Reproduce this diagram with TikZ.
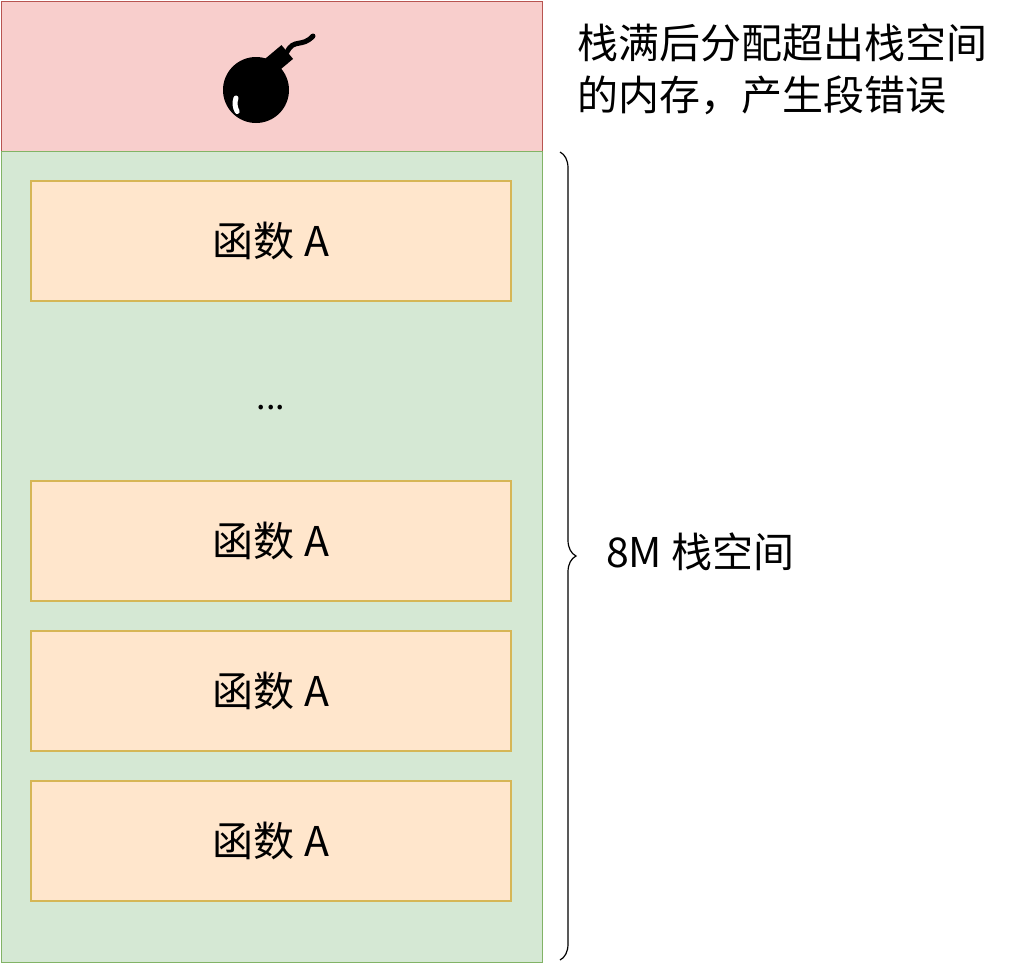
\documentclass[tikz,border=0pt]{standalone}
\usepackage{fontspec}
\setmainfont{Noto Sans CJK SC}
\usetikzlibrary{decorations.pathreplacing}
\definecolor{redf}{HTML}{F8CECC}\definecolor{redd}{HTML}{B85450}
\definecolor{grnf}{HTML}{D5E8D4}\definecolor{grnd}{HTML}{82B366}
\definecolor{orf}{HTML}{FFE6CC}\definecolor{ord}{HTML}{D6B656}
\begin{document}
\begin{tikzpicture}[x=1pt,y=-1pt,
 fbox/.style={draw=ord,fill=orf,line width=1.2pt,minimum width=480pt,minimum height=120pt,inner sep=0pt,font=\fontsize{41}{48}\selectfont},
 lbl/.style={font=\fontsize{41}{52}\selectfont,align=left,inner sep=0pt}]
\useasboundingbox (0,0) rectangle (1024,964);
\node[draw=redd,fill=redf,line width=1pt,minimum width=541pt,minimum height=150pt,inner sep=0pt,anchor=north west] (top) at (0.5,0.5) {};
\node[draw=grnd,fill=grnf,line width=1pt,minimum width=541pt,minimum height=811pt,inner sep=0pt,anchor=north west] (stack) at (0.5,151) {};
\node[fbox] (f1) at (271,241) {函数 A};
\node[font=\fontsize{34}{40}\selectfont] (dots) at (271,408) {...};
\node[fbox] (f2) at (271,541) {函数 A};
\node[fbox] (f3) at (271,691) {函数 A};
\node[fbox] (f4) at (271,841) {函数 A};
% bomb
\fill (256,90) circle (33);
\fill[rotate around={40:(280,62)}] (270,50) rectangle (292,68);
\draw[line width=5pt,line cap=round] (287,52) .. controls (294,38) and (302,48) .. (313,36);
\draw[white,line width=5pt,line cap=round] (236,98) arc (200:150:16);
\coordinate (bt) at (560,152); \coordinate (bb) at (560,960);
\draw[decorate,decoration={brace,amplitude=16pt},line width=1.2pt] (bt) -- (bb);
\node[lbl,anchor=west] (mlab) at (606,552) {8M 栈空间};
\node[lbl,anchor=north west] (note) at (577,24) {栈满后分配超出栈空间\\的内存，产生段错误};
\end{tikzpicture}
\end{document}
